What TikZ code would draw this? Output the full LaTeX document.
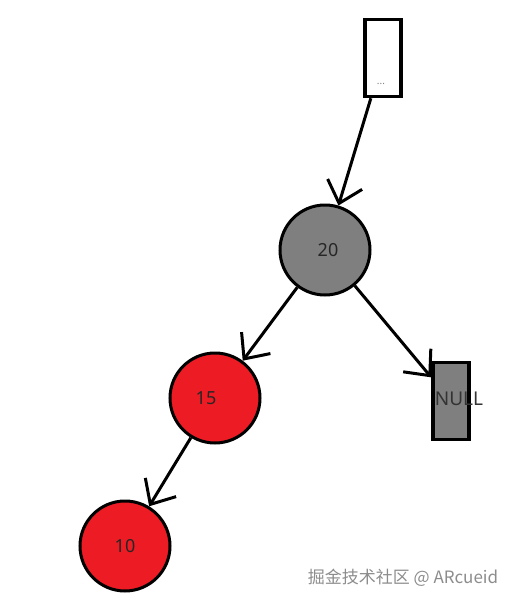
\documentclass[tikz,border=0pt]{standalone}
\usepackage{fontspec}
\setmainfont{Noto Sans}
\newfontfamily\cjkfont{Noto Sans CJK SC}
\usepackage{tikz}
\usetikzlibrary{arrows.meta,positioning,shapes.geometric}
\definecolor{nodegray}{HTML}{7F7F7F}
\definecolor{nodered}{HTML}{ED1C24}

\begin{document}
\begin{tikzpicture}[
  x=1pt, y=-1pt,
  rbnode/.style={circle, draw=black, line width=3pt, minimum size=90pt,
    inner sep=0pt, font=\fontsize{18}{20}\selectfont, text=black!85},
  blk/.style={rbnode, fill=nodegray},
  red/.style={rbnode, fill=nodered},
  box/.style={rectangle, draw=black, line width=3.5pt, minimum width=36pt,
    minimum height=77pt, inner sep=0pt},
  arr/.style={-{Straight Barb[length=20pt,width=36pt]}, line width=3pt}
]
\useasboundingbox (0,0) rectangle (518,606);

\node[box, fill=white] (top)  at (383,58)  {};
\node[font=\fontsize{10}{11}\selectfont, text=gray] (dots) at (381,84) {...};
\node[blk]  (n20)  at (325,250) {\hspace*{6pt}20};
\node[red]  (n15)  at (215,398) {15\hspace*{18pt}};
\node[red]  (n10)  at (125,546) {10};
\node[box, fill=nodegray] (nil) at (451,401) {};
\node[font=\fontsize{19}{21}\selectfont, text=black!80] (niltxt) at (459,399) {NULL};

\draw[arr] (top)  -- (n20);
\draw[arr] (n20)  -- (n15);
\draw[arr] (n20)  -- (nil);
\draw[arr] (n15)  -- (n10);

\node[font=\cjkfont\fontsize{17}{19}\selectfont, text=gray!90] (mark)
  at (403,578) {掘金技术社区 @ ARcueid};
\end{tikzpicture}
\end{document}
